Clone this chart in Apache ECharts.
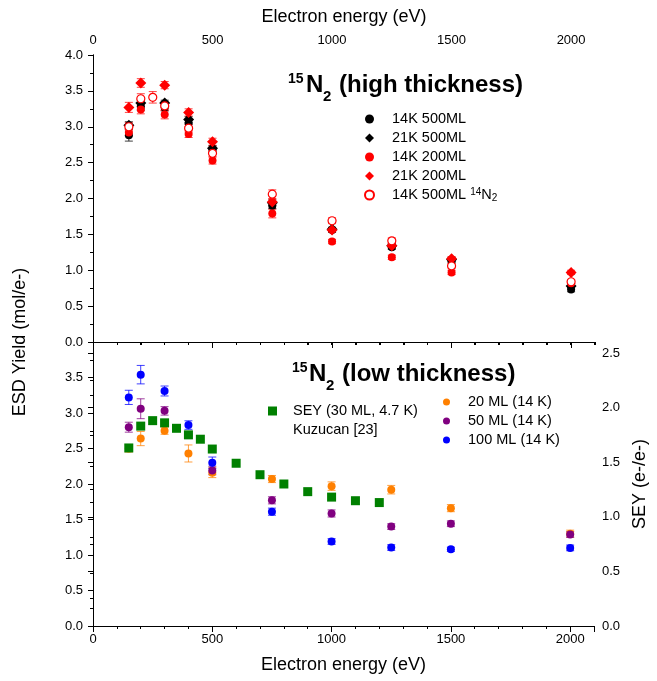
<!DOCTYPE html>
<html>
<head>
<meta charset="utf-8">
<script src="https://cdn.jsdelivr.net/npm/echarts@6/dist/echarts.min.js"></script>
<style>html,body{margin:0;padding:0;background:#fff}#c{width:657px;height:681px}</style>
</head>
<body>
<div id="c"></div>
<script>
// ---------- data ----------
const energyTop = [150, 200, 300, 400, 500, 750, 1000, 1250, 1500, 2000];
const energyTop14N = [150, 200, 250, 300, 400, 500, 750, 1000, 1250, 1500, 2000];
const k14_500 = [2.88, 3.28, 3.27, 3.05, 2.68, 1.90, 1.56, 1.32, 1.13, 0.73];
const k14_500Err = [0.08, 0.05, 0.05, 0.05, 0.04, 0.04, 0.03, 0.03, 0.03, 0.03];
const k21_500 = [3.02, 3.33, 3.33, 3.10, 2.70, 1.94, 1.57, 1.34, 1.15, 0.78];
const k21_500Err = [0.05, 0.05, 0.04, 0.04, 0.04, 0.04, 0.03, 0.03, 0.03, 0.03];
const k14_200 = [2.92, 3.24, 3.17, 2.90, 2.53, 1.79, 1.40, 1.18, 0.97, 0.82];
const k14_200Err = [0.05, 0.06, 0.06, 0.05, 0.05, 0.06, 0.03, 0.03, 0.03, 0.03];
const k21_200 = [3.27, 3.61, 3.58, 3.20, 2.79, 1.95, 1.56, 1.34, 1.16, 0.97];
const k21_200Err = [0.07, 0.06, 0.05, 0.05, 0.05, 0.04, 0.03, 0.03, 0.03, 0.03];
const k14_500_14N = [3.00, 3.39, 3.41, 3.29, 2.98, 2.63, 2.06, 1.69, 1.41, 1.06, 0.84];
const k14_500_14NErr = [0.06, 0.07, 0.08, 0.06, 0.05, 0.05, 0.06, 0.04, 0.04, 0.03, 0.03];

const energyLow = [150, 200, 300, 400, 500, 750, 1000, 1250, 1500, 2000];
const ml20 = [2.50, 2.64, 2.75, 2.43, 2.16, 2.07, 1.97, 1.92, 1.66, 1.30];
const ml20Err = [0.05, 0.10, 0.05, 0.12, 0.07, 0.05, 0.06, 0.06, 0.05, 0.05];
const ml50 = [2.80, 3.06, 3.03, 2.69, 2.19, 1.77, 1.585, 1.40, 1.44, 1.29];
const ml50Err = [0.07, 0.14, 0.06, 0.05, 0.06, 0.05, 0.05, 0.04, 0.04, 0.04];
const ml100 = [3.22, 3.54, 3.31, 2.83, 2.30, 1.61, 1.19, 1.105, 1.08, 1.10];
const ml100Err = [0.10, 0.13, 0.07, 0.06, 0.08, 0.05, 0.04, 0.04, 0.03, 0.04];

const energySEY = [150, 200, 250, 300, 350, 400, 450, 500, 600, 700, 800, 900, 1000, 1100, 1200];
const sey = [1.63, 1.83, 1.88, 1.86, 1.81, 1.75, 1.71, 1.62, 1.49, 1.385, 1.30, 1.23, 1.18, 1.147, 1.13];

const xTicks = [0, 500, 1000, 1500, 2000];

// ---------- helpers ----------
const FONT = 'Liberation Sans, Arial, sans-serif';
function pts(xs, ys) { return xs.map((x, i) => [x, ys[i]]); }
function errPts(xs, ys, es) { return xs.map((x, i) => [x, ys[i], es[i]]); }
function errSeries(name, xs, ys, es, color, xi, yi) {
  return {
    type: 'custom', name: name, xAxisIndex: xi, yAxisIndex: yi,
    data: errPts(xs, ys, es), encode: { x: 0, y: 1 }, silent: true,
    renderItem: function (params, api) {
      const x = api.value(0), y = api.value(1), e = api.value(2);
      const a = api.coord([x, y - e]), b = api.coord([x, y + e]);
      const hw = 4;
      const st = { stroke: color, lineWidth: 1, opacity: 0.75 };
      return { type: 'group', children: [
        { type: 'line', shape: { x1: a[0], y1: a[1], x2: b[0], y2: b[1] }, style: st },
        { type: 'line', shape: { x1: a[0] - hw, y1: a[1], x2: a[0] + hw, y2: a[1] }, style: st },
        { type: 'line', shape: { x1: b[0] - hw, y1: b[1], x2: b[0] + hw, y2: b[1] }, style: st }
      ] };
    }
  };
}
function scat(name, xs, ys, symbol, size, color, xi, yi, extra) {
  return Object.assign({
    type: 'scatter', name: name, xAxisIndex: xi, yAxisIndex: yi,
    data: pts(xs, ys), symbol: symbol, symbolSize: size,
    itemStyle: { color: color, opacity: 1 }
  }, extra || {});
}

const axLine = { show: true, lineStyle: { color: '#000', width: 1 } };
const lbl = { color: '#000', fontSize: 13, fontFamily: FONT };

const xAxes = [
  { gridIndex: 0, type: 'value', position: 'top', min: 0, max: 2100, interval: 500,
    axisLine: axLine, axisTick: { show: true, inside: true, length: 6, lineStyle: { color: '#000' } },
    axisLabel: Object.assign({ margin: 8, showMaxLabel: false, formatter: v => xTicks.includes(v) ? String(v) : '' }, lbl),
    splitLine: { show: false },
    name: 'Electron energy (eV)', nameLocation: 'middle', nameGap: 29,
    nameTextStyle: { fontSize: 18, fontFamily: FONT, color: '#000' } },
  { gridIndex: 0, type: 'value', position: 'top', min: 0, max: 2100, interval: 100,
    axisLine: { show: false }, axisTick: { show: true, inside: true, length: 3, lineStyle: { color: '#000' } },
    axisLabel: { show: false }, splitLine: { show: false } },
  { gridIndex: 0, type: 'value', position: 'bottom', min: 0, max: 2100, interval: 500,
    axisLine: axLine, axisTick: { show: false }, axisLabel: { show: false }, splitLine: { show: false } },
  { gridIndex: 1, type: 'value', position: 'bottom', min: 0, max: 2100, interval: 500,
    axisLine: axLine, axisTick: { show: true, inside: false, length: 5, lineStyle: { color: '#000' } },
    axisLabel: Object.assign({ margin: 7, showMaxLabel: false, formatter: v => xTicks.includes(v) ? String(v) : '' }, lbl),
    splitLine: { show: false },
    name: 'Electron energy (eV)', nameLocation: 'middle', nameGap: 30,
    nameTextStyle: { fontSize: 18, fontFamily: FONT, color: '#000' } },
  { gridIndex: 1, type: 'value', position: 'bottom', min: 0, max: 2100, interval: 100,
    axisLine: { show: false }, axisTick: { show: true, inside: false, length: 3, lineStyle: { color: '#000' } },
    axisLabel: { show: false }, splitLine: { show: false } },
  { gridIndex: 1, type: 'value', position: 'top', min: 0, max: 2100, interval: 500,
    axisLine: axLine, axisTick: { show: true, inside: true, length: 6, lineStyle: { color: '#000' } },
    axisLabel: { show: false }, splitLine: { show: false } },
  { gridIndex: 1, type: 'value', position: 'top', min: 0, max: 2100, interval: 100,
    axisLine: { show: false }, axisTick: { show: true, inside: true, length: 3, lineStyle: { color: '#000' } },
    axisLabel: { show: false }, splitLine: { show: false } }
];

const yAxes = [
  { gridIndex: 0, type: 'value', position: 'left', min: 0, max: 4, interval: 0.5,
    axisLine: axLine, axisTick: { show: true, inside: false, length: 5, lineStyle: { color: '#000' } },
    minorTick: { show: true, splitNumber: 2, length: 3, lineStyle: { color: '#000' } },
    axisLabel: Object.assign({ margin: 10, formatter: v => v.toFixed(1) }, lbl), splitLine: { show: false } },
  { gridIndex: 0, type: 'value', position: 'right', min: 0, max: 4, interval: 0.5,
    axisLine: axLine, axisTick: { show: true, inside: true, length: 5, lineStyle: { color: '#000' } },
    minorTick: { show: true, splitNumber: 2, length: 3, lineStyle: { color: '#000' } },
    axisLabel: { show: false }, splitLine: { show: false } },
  { gridIndex: 1, type: 'value', position: 'left', min: 0, max: 4, interval: 0.5,
    axisLine: axLine, axisTick: { show: true, inside: false, length: 5, lineStyle: { color: '#000' } },
    minorTick: { show: true, splitNumber: 2, length: 3, lineStyle: { color: '#000' } },
    axisLabel: Object.assign({ margin: 10, showMaxLabel: false, formatter: v => v.toFixed(1) }, lbl), splitLine: { show: false } },
  { gridIndex: 1, type: 'value', position: 'right', min: 0, max: 2.6, interval: 0.5,
    axisLine: axLine, axisTick: { show: true, inside: true, length: 5, lineStyle: { color: '#000' } },
    axisLabel: Object.assign({ margin: 8, showMaxLabel: false, formatter: v => v.toFixed(1) }, lbl), splitLine: { show: false },
    name: 'SEY (e-/e-)', nameLocation: 'middle', nameGap: 34, nameRotate: 90,
    nameTextStyle: { fontSize: 18, fontFamily: FONT, color: '#000' } },
  { gridIndex: 1, type: 'value', position: 'right', min: 0, max: 2.6, interval: 0.25,
    axisLine: { show: false }, axisTick: { show: true, inside: true, length: 3, lineStyle: { color: '#000' } },
    axisLabel: { show: false }, splitLine: { show: false } }
];

const series = [
  errSeries('e1', energyTop, k14_500, k14_500Err, '#000', 0, 0),
  scat('14K 500ML', energyTop, k14_500, 'circle', 8, '#000', 0, 0),
  errSeries('e2', energyTop, k21_500, k21_500Err, '#000', 0, 0),
  scat('21K 500ML', energyTop, k21_500, 'diamond', 11, '#000', 0, 0),
  errSeries('e3', energyTop, k14_200, k14_200Err, '#ff0000', 0, 0),
  scat('14K 200ML', energyTop, k14_200, 'circle', 8, '#ff0000', 0, 0),
  errSeries('e4', energyTop, k21_200, k21_200Err, '#ff0000', 0, 0),
  scat('21K 200ML', energyTop, k21_200, 'diamond', 11, '#ff0000', 0, 0),
  errSeries('e5', energyTop14N, k14_500_14N, k14_500_14NErr, '#ff0000', 0, 0),
  scat('14K 500ML 14N2', energyTop14N, k14_500_14N, 'circle', 8, '#ff0000', 0, 0,
    { itemStyle: { color: '#fff', borderColor: '#ff0000', borderWidth: 1.2, opacity: 1 } }),

  errSeries('e6', energyLow, ml20, ml20Err, '#ff8000', 3, 2),
  scat('20 ML (14 K)', energyLow, ml20, 'circle', 8, '#ff8000', 3, 2),
  errSeries('e7', energyLow, ml50, ml50Err, '#800080', 3, 2),
  scat('50 ML (14 K)', energyLow, ml50, 'circle', 8, '#800080', 3, 2),
  errSeries('e8', energyLow, ml100, ml100Err, '#0000ff', 3, 2),
  scat('100 ML (14 K)', energyLow, ml100, 'circle', 8, '#0000ff', 3, 2),
  scat('SEY (30 ML, 4.7 K)', energySEY, sey, 'rect', 9, '#008000', 3, 3)
];

const legText = { fontSize: 14.5, fontFamily: FONT, color: '#000', lineHeight: 16, padding: [0, 0, 0, 12] };

const option = {
  animation: false,
  backgroundColor: '#fff',
  grid: [
    { left: 93, width: 502, top: 55, height: 287 },
    { left: 93, width: 502, top: 342, height: 284 }
  ],
  xAxis: xAxes,
  yAxis: yAxes,
  legend: [
    { orient: 'vertical', left: 359, top: 106, itemWidth: 9, itemHeight: 9, itemGap: 3,
      data: ['14K 500ML', '21K 500ML', '14K 200ML', '21K 200ML', '14K 500ML 14N2'],
      formatter: n => n === '14K 500ML 14N2' ? '14K 500ML {sup|14}{n|N}{sub|2}' : n,
      textStyle: Object.assign({}, legText, { padding: [0, 0, 0, 13], rich: {
        n: { fontSize: 14.5, fontFamily: FONT, color: '#000', lineHeight: 16 },
        sup: { fontSize: 10, fontFamily: FONT, color: '#000', lineHeight: 10, verticalAlign: 'top' },
        sub: { fontSize: 10, fontFamily: FONT, color: '#000', lineHeight: 10, verticalAlign: 'bottom' }
      } }) },
    { orient: 'vertical', left: 438, top: 389, itemWidth: 7, itemHeight: 7, itemGap: 3,
      data: ['20 ML (14 K)', '50 ML (14 K)', '100 ML (14 K)'],
      textStyle: Object.assign({}, legText, { padding: [0, 0, 0, 13] }) },
    { orient: 'vertical', left: 263, top: 398, itemWidth: 9, itemHeight: 9, itemGap: 3,
      data: ['SEY (30 ML, 4.7 K)'],
      textStyle: Object.assign({}, legText, { padding: [0, 0, 0, 11] }) }
  ],
  graphic: [
    { type: 'text', x: 20, y: 342, rotation: Math.PI / 2,
      style: { text: 'ESD Yield (mol/e-)', font: '18px ' + FONT, fill: '#000', textAlign: 'center', textVerticalAlign: 'middle' } },
    { type: 'text', x: 293, y: 430,
      style: { text: 'Kuzucan [23]', font: '14.5px ' + FONT, fill: '#000', textAlign: 'left', textVerticalAlign: 'middle' } },
    { type: 'text', x: 288, y: 79, style: { text: '15', font: 'bold 14px ' + FONT, fill: '#000', textVerticalAlign: 'middle' } },
    { type: 'text', x: 306, y: 85, style: { text: 'N', font: 'bold 24px ' + FONT, fill: '#000', textVerticalAlign: 'middle' } },
    { type: 'text', x: 323, y: 97, style: { text: '2', font: 'bold 15px ' + FONT, fill: '#000', textVerticalAlign: 'middle' } },
    { type: 'text', x: 339, y: 85, style: { text: '(high thickness)', font: 'bold 24px ' + FONT, fill: '#000', textVerticalAlign: 'middle' } },
    { type: 'text', x: 292, y: 368, style: { text: '15', font: 'bold 14px ' + FONT, fill: '#000', textVerticalAlign: 'middle' } },
    { type: 'text', x: 309, y: 374, style: { text: 'N', font: 'bold 24px ' + FONT, fill: '#000', textVerticalAlign: 'middle' } },
    { type: 'text', x: 326, y: 386, style: { text: '2', font: 'bold 15px ' + FONT, fill: '#000', textVerticalAlign: 'middle' } },
    { type: 'text', x: 342, y: 374, style: { text: '(low thickness)', font: 'bold 24px ' + FONT, fill: '#000', textVerticalAlign: 'middle' } }
  ],
  series: series
};

const chart = echarts.init(document.getElementById('c'), null, { renderer: 'canvas' });
chart.setOption(option);
</script>
</body>
</html>
